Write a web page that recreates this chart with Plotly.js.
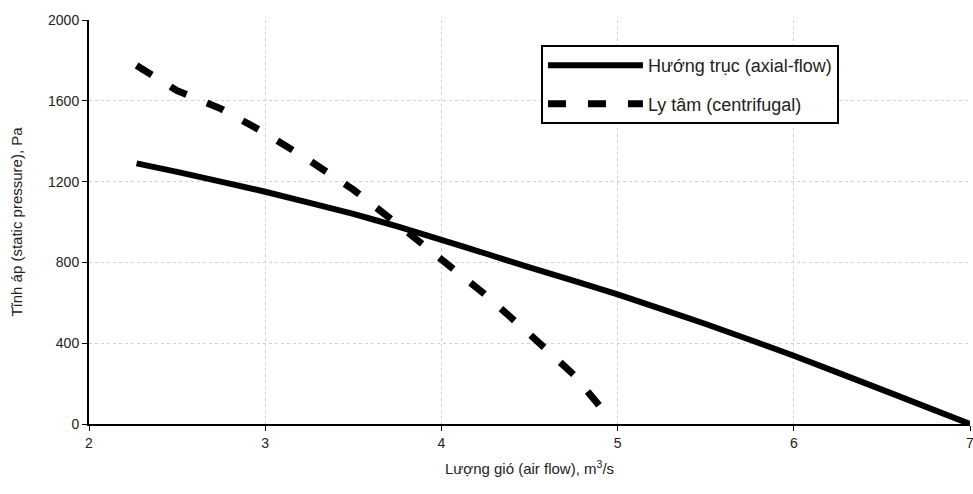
<!DOCTYPE html>
<html><head><meta charset="utf-8">
<script src="https://cdn.plot.ly/plotly-3.0.1.min.js"></script>
<style>body{margin:0;background:#fff}#c{width:973px;height:494px}</style>
</head><body><div id="c"></div>
<script>
const axialX = [2.27, 2.5, 3.0, 3.5, 3.75, 4.0, 4.25, 4.5, 5.0, 5.5, 6.0, 6.5, 7.0];
const axialY = [1290, 1248, 1150, 1040, 978, 912, 844, 775, 642, 495, 338, 170, 0];
const centX = [2.27, 2.5, 2.75, 3.0, 3.25, 3.5, 3.75, 4.0, 4.25, 4.5, 4.75, 4.94];
const centY = [1775, 1650, 1560, 1440, 1305, 1160, 990, 820, 640, 445, 245, 45];
const names = ["Hướng trục (axial-flow)", "Ly tâm (centrifugal)"];
const xTicks = [2, 3, 4, 5, 6, 7];
const yTicks = [0, 400, 800, 1200, 1600, 2000];

const traces = [
  {x: axialX, y: axialY, name: names[0], legendgroup: 'a', mode: 'lines', line: {color: '#000', width: 6, shape: 'spline', smoothing: 0.5}},
  {x: centX, y: centY, name: names[1], legendgroup: 'b', mode: 'lines', line: {color: '#000', width: 7, dash: '18px,22px'}}
];
const layout = {
  width: 973, height: 494,
  margin: {l: 89, r: 3, t: 20, b: 70},
  paper_bgcolor: '#fff', plot_bgcolor: '#fff',
  font: {family: 'Liberation Sans, Arial, sans-serif', size: 14, color: '#222'},
  showlegend: true,
  legend: {x: 0.513, y: 0.938, xanchor: 'left', yanchor: 'top', bordercolor: '#000', borderwidth: 2, bgcolor: '#fff',
    font: {size: 18}, itemwidth: 95, traceorder: 'grouped', tracegroupgap: 12},
  xaxis: {range: [2, 7], tickvals: xTicks, ticktext: xTicks.map(String), showline: true, linecolor: '#000', linewidth: 2,
    ticks: 'outside', ticklen: 5, tickcolor: '#000', showgrid: true, gridcolor: '#d0d0d0', griddash: 'dot', gridwidth: 1, zeroline: false,
    ticklabeloverflow: 'allow', automargin: false,
    title: {text: 'Lượng gió (air flow), m<sup>3</sup>/s', font: {size: 15}, standoff: 14}},
  yaxis: {range: [0, 2000], tickvals: yTicks, ticktext: yTicks.map(String), showline: true, linecolor: '#000', linewidth: 2,
    ticks: 'outside', ticklen: 5, tickcolor: '#000', showgrid: true, gridcolor: '#d0d0d0', griddash: 'dot', gridwidth: 1, zeroline: false,
    automargin: false,
    title: {text: 'Tĩnh áp (static pressure), Pa', font: {size: 15}, standoff: 22}}
};
Plotly.newPlot('c', traces, layout, {displayModeBar: false});
</script></body></html>
